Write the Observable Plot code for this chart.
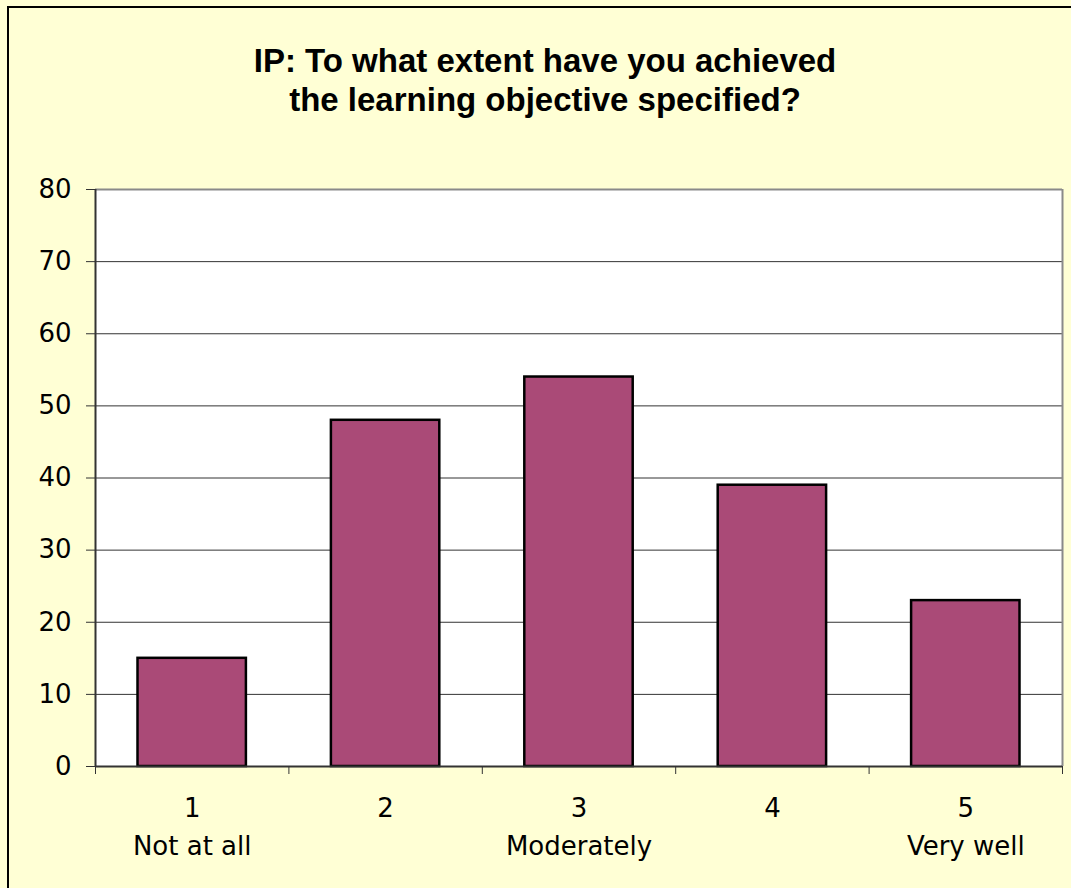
<!DOCTYPE html>
<html>
<head>
<meta charset="utf-8">
<script src="https://cdn.jsdelivr.net/npm/d3@7"></script>
<script src="https://cdn.jsdelivr.net/npm/@observablehq/plot@0.6"></script>
<style>
  html, body { margin: 0; padding: 0; width: 1071px; height: 888px; overflow: hidden; background: #FFFFD5; }
  #panel { position: absolute; left: 7px; top: 6px; width: 1120px; height: 940px; border: 2px solid #000; background: #FFFFD5; box-sizing: border-box; }
  #title { position: absolute; left: 0; top: 41px; width: 1090px; text-align: center; font-family: "Liberation Sans", Arial, sans-serif; font-weight: bold; font-size: 33px; line-height: 39px; color: #000; }
  #chart { position: absolute; left: 0; top: 0; }
  #chart svg { background: transparent; overflow: visible; }
</style>
</head>
<body>
<div id="panel"></div>
<div id="title">IP: To what extent have you achieved<br>the learning objective specified?</div>
<div id="chart"></div>
<script>
const categories = [1, 2, 3, 4, 5];
const labels = ["Not at all", "", "Moderately", "", "Very well"];
const values = [15, 48, 54, 39, 23];
const yTicks = [0, 10, 20, 30, 40, 50, 60, 70, 80];

const data = categories.map((c, i) => ({cat: c, label: labels[i], value: values[i]}));
const boundaries = [0.5, ...categories.map(c => c + 0.5)];

const font = "'DejaVu Sans', Verdana, sans-serif";

const chart = Plot.plot({
  width: 1071,
  height: 888,
  marginLeft: 95,
  marginRight: 9,
  marginTop: 189,
  marginBottom: 122,
  style: {fontFamily: font, fontSize: "26px", color: "#000", background: "transparent"},
  x: {type: "linear", domain: [0.5, 5.5], label: null},
  y: {domain: [0, 80], label: null},
  marks: [
    Plot.frame({fill: "white", stroke: "none"}),
    Plot.ruleY(yTicks.filter(t => t > 0 && t < 80), {stroke: "#333", strokeWidth: 1}),
    Plot.ruleY([80], {stroke: "#8a8a8a", strokeWidth: 2}),
    Plot.ruleX([5.5], {stroke: "#8a8a8a", strokeWidth: 2}),
    Plot.rectY(data, {
      x1: d => d.cat - 0.5,
      x2: d => d.cat + 0.5,
      y1: 0,
      y2: "value",
      insetLeft: 42.5,
      insetRight: 42.5,
      fill: "#AA4A77",
      stroke: "#000",
      strokeWidth: 2.5
    }),
    Plot.ruleX([0.5], {stroke: "#333", strokeWidth: 2}),
    Plot.ruleY([0], {stroke: "#333", strokeWidth: 2}),
    Plot.axisY({ticks: yTicks, tickSize: 9, tickPadding: 15, fontSize: 26, stroke: "#333", fill: "#000", label: null}),
    Plot.axisX({ticks: boundaries, tickSize: 8, tickFormat: () => "", stroke: "#333", label: null}),
    Plot.text(data, {x: "cat", y: 0, text: d => String(d.cat), dy: 42, fill: "#000", fontSize: 26}),
    Plot.text(data, {x: "cat", y: 0, text: "label", dy: 80, fill: "#000", fontSize: 26})
  ]
});
document.getElementById("chart").appendChild(chart);
</script>
</body>
</html>
